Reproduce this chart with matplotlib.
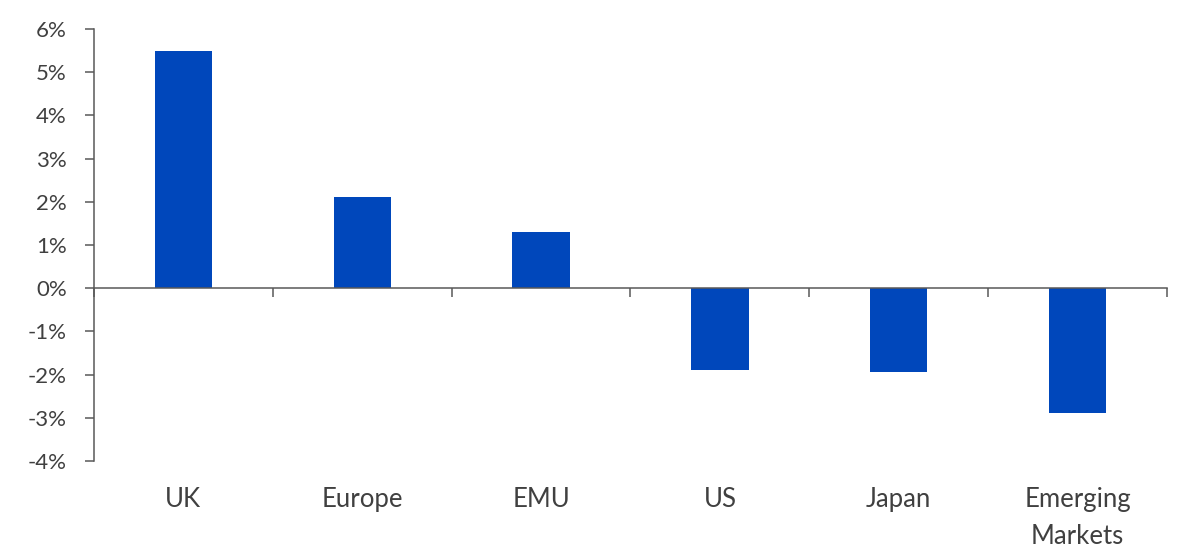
import matplotlib
matplotlib.use("Agg")
import matplotlib.pyplot as plt
import matplotlib.transforms as mtransforms
from matplotlib.ticker import FuncFormatter
import numpy as np

categories = ["UK", "Europe", "EMU", "US", "Japan", "Emerging\nMarkets"]
values = [5.5, 2.1, 1.3, -1.9, -1.95, -2.9]
y_ticks = [-4, -3, -2, -1, 0, 1, 2, 3, 4, 5, 6]

bar_color = "#0047BB"
text_color = "#404040"
axis_color = "#595959"

plt.rcParams['font.family'] = ['Lato', 'DejaVu Sans']

fig = plt.figure(figsize=(12, 5.59), dpi=100)
ax = fig.add_axes([94/1200, 1-461/559, (1167-94)/1200, (461-29)/559])

x = np.arange(len(categories))
ax.bar(x, values, width=0.32, color=bar_color, zorder=2)

ax.set_xlim(-0.5, len(categories)-0.5)
ax.set_ylim(-4, 6)
ax.set_yticks(y_ticks)
ax.yaxis.set_major_formatter(FuncFormatter(lambda v, p: f"{int(round(v))}%"))

for s in ["top", "right"]:
    ax.spines[s].set_visible(False)
ax.spines["bottom"].set_position(("data", 0))
ax.spines["bottom"].set_color(axis_color)
ax.spines["left"].set_color(axis_color)
ax.spines["bottom"].set_linewidth(1.1)
ax.spines["left"].set_linewidth(1.1)
ax.spines["bottom"].set_zorder(3)

ax.tick_params(axis="y", direction="out", length=6.5, width=1.1, color=axis_color,
               labelsize=16, labelcolor=text_color, pad=13)
ax.set_xticks(np.arange(len(categories)+1) - 0.5)
ax.set_xticklabels([])
ax.tick_params(axis="x", direction="out", length=6.5, width=1.1, color=axis_color)

trans = mtransforms.blended_transform_factory(ax.transData, ax.transAxes)
for xi, lab in zip(x, categories):
    ax.text(xi, -26/432, lab, transform=trans, ha="center", va="top",
            fontsize=18.5, color=text_color, linespacing=1.58)

fig.savefig("out.png", dpi=100)
